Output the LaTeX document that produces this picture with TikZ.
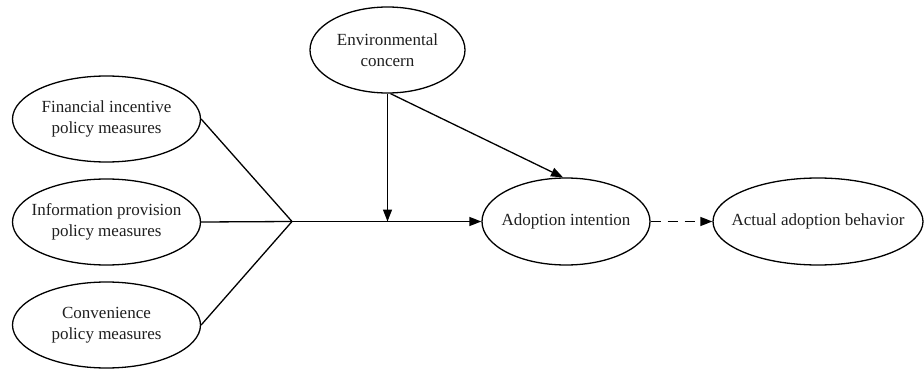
\documentclass[tikz,border=0pt]{standalone}
\usepackage{fontspec}
\setmainfont{Liberation Serif}
\usetikzlibrary{shapes.geometric,arrows.meta}
\begin{document}
\begin{tikzpicture}[x=1pt,y=-1pt,
  construct/.style={draw, ellipse, line width=1.3pt, inner xsep=-30pt, inner ysep=0pt,
    align=center, font=\fontsize{17}{21.5}\selectfont, text=black!88},
  link/.style={line width=1.3pt},
  arr/.style={link, -{Triangle[length=12pt,width=9pt]}},
  dasharr/.style={arr, dash pattern=on 10pt off 7pt}]
\useasboundingbox (0,0) rectangle (924,369);
% constructs
\node[construct, minimum width=155, minimum height=86] (env) at (387.5,50) {Environmental\\concern};
\node[construct, minimum width=188, minimum height=86] (fin) at (106.5,119) {Financial incentive\\policy measures};
\node[construct, minimum width=188, minimum height=86] (inf) at (106.5,222) {Information provision\\policy measures};
\node[construct, minimum width=188, minimum height=86] (con) at (106.5,325) {Convenience\\policy measures};
\node[construct, minimum width=168, minimum height=87] (ai) at (566,221.5) {Adoption intention};
\node[construct, minimum width=210, minimum height=87] (act) at (818,221.5) {Actual adoption behavior};
% merging point of the three policy paths and the moderation point
\coordinate (j) at (292,221.5);
\coordinate (m) at (env.south |- j);
% connectors
\draw[link] (fin.east) -- (j);
\draw[link] (inf.east) -- (j);
\draw[link] (con.east) -- (j);
\draw[arr] (j) -- (ai.west);
\draw[arr] (env.south) -- (m);
\draw[arr] ([xshift=3pt]env.south) -- ([xshift=-3pt]ai.north);
\draw[dasharr] (ai.east) -- (act.west);
\end{tikzpicture}
\end{document}
